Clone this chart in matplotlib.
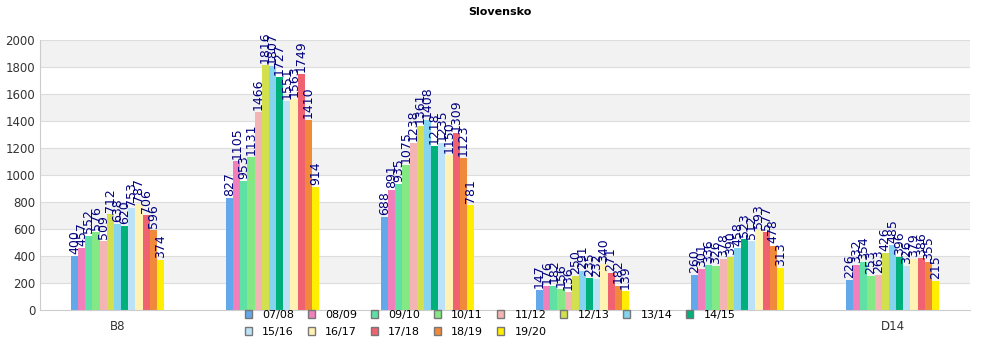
import numpy as np
import matplotlib.pyplot as plt

categories = ['B8', '', '', '', '', 'D14']
seasons = ['07/08', '08/09', '09/10', '10/11', '11/12', '12/13', '13/14',
           '14/15', '15/16', '16/17', '17/18', '18/19', '19/20']
values = [
    [400, 827, 688, 147, 260, 226],
    [457, 1105, 891, 176, 301, 332],
    [552, 953, 935, 182, 336, 354],
    [576, 1131, 1075, 156, 326, 253],
    [509, 1466, 1238, 136, 378, 263],
    [712, 1816, 1361, 250, 390, 426],
    [638, 1807, 1408, 291, 458, 485],
    [620, 1727, 1218, 235, 523, 396],
    [753, 1551, 1235, 232, 512, 326],
    [787, 1563, 1150, 340, 593, 379],
    [706, 1749, 1309, 271, 577, 386],
    [596, 1410, 1123, 182, 478, 355],
    [374, 914, 781, 139, 313, 215],
]
colors = ['#62a8ea', '#f07fbc', '#5fe0a4', '#84e884', '#f4b4b4', '#d2e04e',
          '#84d4f0', '#00b07a', '#bce2f8', '#fff2b2', '#f06270', '#f08a3a', '#ffee00']

fig = plt.figure(figsize=(10, 3.5), dpi=100)
ax = fig.add_axes([0.04, 0.114, 0.93, 0.772])

# alternating background bands
for lo in range(200, 2000, 400):
    ax.axhspan(lo, lo + 200, color='#f2f2f2', zorder=0, lw=0)
for yv in range(200, 2001, 200):
    ax.axhline(yv, color='#dddddd', lw=0.8, zorder=0.5)

x = np.arange(len(categories))
n = len(seasons)
w = 0.6 / n
for i, (s, v, c) in enumerate(zip(seasons, values, colors)):
    pos = x - 0.3 + w * (i + 0.5)
    ax.bar(pos, v, width=w, color=c, label=s, zorder=2, edgecolor='none')
    for px, val in zip(pos, v):
        ax.text(px, val + 15, str(val), rotation=90, ha='center', va='bottom',
                fontsize=9, color='#000080', zorder=3)

ax.set_xlim(-0.5, len(categories) - 0.5)
ax.set_ylim(0, 2000)
ax.set_yticks(range(0, 2001, 200))
ax.set_xticks(x)
ax.set_xticklabels(categories)
ax.tick_params(axis='both', length=0, labelsize=8.5, colors='#333333')
ax.tick_params(axis='x', pad=7)
for side in ['top', 'right']:
    ax.spines[side].set_visible(False)
ax.spines['left'].set_color('#cccccc')
ax.spines['bottom'].set_color('#cccccc')

fig.suptitle('Slovensko', fontsize=8, fontweight='bold', y=0.98)

# legend filled row by row (8 per row)
handles, labels = ax.get_legend_handles_labels()
ncol = 8
order = []
for j in range(ncol):
    order.append(j)
    if j + ncol < len(handles):
        order.append(j + ncol)
handles = [handles[k] for k in order]
labels = [labels[k] for k in order]
leg = fig.legend(handles, labels, loc='upper center', bbox_to_anchor=(0.49, 0.143),
                 ncol=ncol, frameon=False, fontsize=8, handlelength=0.65, handleheight=0.7,
                 columnspacing=1.25, handletextpad=0.9, labelspacing=0.65)
for p in leg.get_patches():
    p.set_edgecolor('#777777')
    p.set_linewidth(1.0)

plt.savefig('out.png', dpi=100)
